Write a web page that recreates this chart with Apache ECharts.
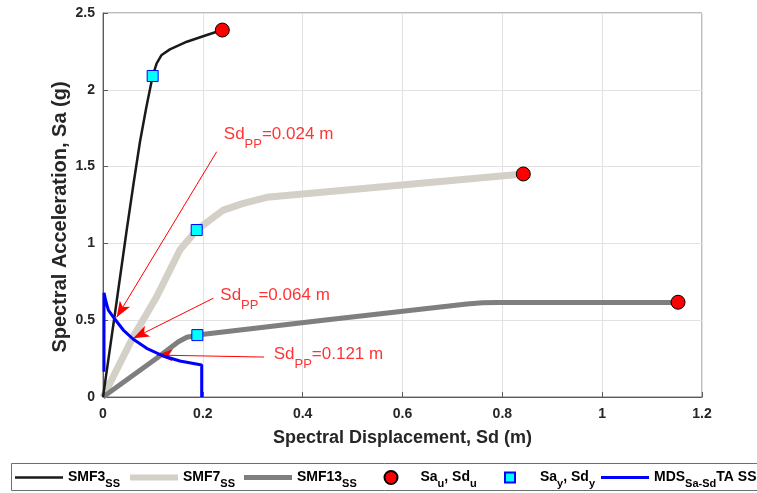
<!DOCTYPE html>
<html><head><meta charset="utf-8">
<script src="https://cdn.jsdelivr.net/npm/echarts@6/dist/echarts.min.js"></script>
<style>html,body{margin:0;padding:0;background:#fff}#c{width:757px;height:493px}</style>
</head><body><div id="c"></div>
<script>
// ---- data ----
const xTicks = [0, 0.2, 0.4, 0.6, 0.8, 1, 1.2];
const yTicks = [0, 0.5, 1, 1.5, 2, 2.5];

const smf3Sd = [0, 0.024, 0.0475, 0.061, 0.074, 0.087, 0.0995, 0.1075, 0.1175, 0.134, 0.168, 0.208, 0.239];
const smf3Sa = [0, 0.545, 1.087, 1.385, 1.66, 1.89, 2.09, 2.172, 2.227, 2.263, 2.313, 2.357, 2.389];

const smf7Sd = [0, 0.0607, 0.1075, 0.154, 0.1877, 0.241, 0.281, 0.328, 0.842];
const smf7Sa = [0, 0.393, 0.653, 0.957, 1.087, 1.217, 1.261, 1.3, 1.452];

const smf13Sd = [0, 0.1075, 0.151, 0.168, 0.189, 0.45, 0.729, 0.760, 0.790, 1.152];
const smf13Sa = [0, 0.252, 0.36, 0.389, 0.403, 0.503, 0.605, 0.613, 0.615, 0.615];

const ultSd = [0.239, 0.842, 1.152];
const ultSa = [2.389, 1.452, 0.617];

const yldSd = [0.0995, 0.1877, 0.189];
const yldSa = [2.09, 1.087, 0.403];

const mdsSd = [0.002, 0.002, 0.006, 0.0107, 0.024, 0.0407, 0.0607, 0.0875, 0.1208, 0.154, 0.1977, 0.1977];
const mdsSa = [0.164, 0.679, 0.62, 0.566, 0.506, 0.436, 0.376, 0.317, 0.267, 0.234, 0.208, 0];

// performance point annotations
const sdPP = [0.024, 0.064, 0.121];
const annotTextSd = [0.241, 0.234, 0.341];
const annotTextSa = [1.712, 0.664, 0.280];
const arrowFromSd = [0.2278, 0.221, 0.3225];
const arrowFromSa = [1.597, 0.643, 0.260];
const arrowToSd = [0.0274, 0.0607, 0.1076];
const arrowToSa = [0.519, 0.382, 0.273];

const legendRich = {
  SMF3: '{m|SMF3}{s|SS}',
  SMF7: '{m|SMF7}{s|SS}',
  SMF13: '{m|SMF13}{s|SS}',
  SaSdU: '{m|Sa}{s|u}{m|, Sd}{s|u}',
  SaSdY: '{m|Sa}{s|y}{m|, Sd}{s|y}',
  MDS: '{m|MDS}{s|Sa-Sd}{m|TA SS}'
};

// ---- build ----
const zip = (a, b) => a.map((v, i) => [v, b[i]]);
const FONT = '"Liberation Sans", Arial, sans-serif';

const legendRichStyle = {
  m: { fontSize: 14, fontWeight: 'bold', fontFamily: FONT, color: '#000', lineHeight: 16 },
  s: { fontSize: 11, fontWeight: 'bold', fontFamily: FONT, color: '#000', lineHeight: 12, padding: [12, 0, 0, 0] }
};
// left = icon left edge; textPad = extra gap between icon and text
const legendPos = [
  { name: 'SMF3', left: 15, w: 48, h: 2.5, icon: 'rect', textPad: 0 },
  { name: 'SMF7', left: 130, w: 48, h: 6, icon: 'rect', textPad: 0 },
  { name: 'SMF13', left: 244, w: 48, h: 5, icon: 'rect', textPad: 0 },
  { name: 'SaSdU', left: 383.5, w: 13, h: 13, icon: 'circle', textPad: 18 },
  { name: 'SaSdY', left: 504, w: 10, h: 10, icon: 'rect', textPad: 20 },
  { name: 'MDS', left: 601, w: 48, h: 3, icon: 'rect', textPad: 0 }
];

const chart = echarts.init(document.getElementById('c'), null, { renderer: 'canvas' });

const option = {
  animation: false,
  backgroundColor: '#fff',
  grid: { left: 103, right: 55, top: 13, bottom: 96, show: true, borderColor: '#7a7a7a', borderWidth: 1, backgroundColor: 'transparent' },
  xAxis: {
    type: 'value', min: xTicks[0], max: xTicks[xTicks.length - 1], interval: 0.2,
    name: 'Spectral Displacement, Sd (m)', nameLocation: 'middle', nameGap: 32,
    nameTextStyle: { fontSize: 18, fontWeight: 'bold', fontFamily: FONT, color: '#262626' },
    axisLine: { show: true, lineStyle: { color: '#5a5a5a' } },
    axisTick: { show: true, inside: true, length: 5, lineStyle: { color: '#5a5a5a' } },
    axisLabel: { fontSize: 14, fontWeight: 'bold', fontFamily: FONT, color: '#262626', margin: 10 },
    splitLine: { show: true, lineStyle: { color: '#e2e2e2', width: 1 } }
  },
  yAxis: {
    type: 'value', min: yTicks[0], max: yTicks[yTicks.length - 1], interval: 0.5,
    name: 'Spectral Acceleration, Sa (g)', nameLocation: 'middle', nameGap: 33, nameMoveOverlap: false,
    nameTextStyle: { fontSize: 20, fontWeight: 'bold', fontFamily: FONT, color: '#262626', padding: [0, 24, 0, 0] },
    axisLine: { show: true, lineStyle: { color: '#5a5a5a' } },
    axisTick: { show: true, inside: true, length: 5, lineStyle: { color: '#5a5a5a' } },
    axisLabel: { fontSize: 14, fontWeight: 'bold', fontFamily: FONT, color: '#262626', margin: 8 },
    splitLine: { show: true, lineStyle: { color: '#e2e2e2', width: 1 } }
  },
  legend: legendPos.map(p => ({
    data: [{ name: p.name, icon: p.icon }], left: p.left, top: 466, padding: 0, itemGap: 0,
    itemWidth: p.w, itemHeight: p.h, selectedMode: false,
    formatter: n => legendRich[n],
    textStyle: { rich: legendRichStyle, padding: [0, 0, 0, p.textPad] }
  })),
  graphic: [{
    type: 'rect', z: 0, silent: true,
    shape: { x: 11.5, y: 463.5, width: 800, height: 27 },
    style: { fill: '#fff', stroke: '#6e6e6e', lineWidth: 1 }
  }],
  series: [
    { name: 'SMF7', type: 'line', data: zip(smf7Sd, smf7Sa), symbol: 'none', z: 2,
      lineStyle: { color: '#d4d0c8', width: 7 }, itemStyle: { color: '#d4d0c8' } },
    { name: 'SMF13', type: 'line', data: zip(smf13Sd, smf13Sa), symbol: 'none', z: 3,
      lineStyle: { color: '#7f7f7f', width: 5 }, itemStyle: { color: '#7f7f7f' } },
    { name: 'SMF3', type: 'line', data: zip(smf3Sd, smf3Sa), symbol: 'none', z: 4,
      lineStyle: { color: '#1a1a1a', width: 2.5 }, itemStyle: { color: '#1a1a1a' } },
    { name: 'MDS', type: 'line', data: zip(mdsSd, mdsSa), symbol: 'none', z: 5,
      lineStyle: { color: '#0000ff', width: 3 }, itemStyle: { color: '#0000ff' } },
    { name: 'SaSdU', type: 'scatter', data: zip(ultSd, ultSa), symbol: 'circle', symbolSize: 14, z: 7,
      itemStyle: { color: '#ff0000', borderColor: '#000', borderWidth: 1, opacity: 1 } },
    { name: 'SaSdY', type: 'scatter', data: zip(yldSd, yldSa), symbol: 'rect', symbolSize: 11, z: 7,
      itemStyle: { color: '#00ffff', borderColor: '#0000ff', borderWidth: 1, opacity: 1 } },
    { name: 'annot', type: 'scatter', z: 8, silent: true,
      data: zip(annotTextSd, annotTextSa),
      symbol: 'circle', symbolSize: 1, itemStyle: { color: 'rgba(0,0,0,0)' },
      label: {
        show: true, position: 'right', distance: 0,
        formatter: p => '{a|Sd}{b|PP}{a|=' + sdPP[p.dataIndex].toFixed(3) + ' m}',
        rich: {
          a: { fontSize: 17, fontFamily: FONT, color: '#ff0000', lineHeight: 19 },
          b: { fontSize: 13, fontFamily: FONT, color: '#ff0000', lineHeight: 13, padding: [20, 0, 0, 0] }
        }
      },
      markLine: {
        silent: true, animation: false,
        lineStyle: { color: '#ff0000', width: 1, type: 'solid' },
        label: { show: false },
        emphasis: { disabled: true },
        data: arrowFromSd.map((v, i) => [
          { coord: [v, arrowFromSa[i]], symbol: 'none' },
          { coord: [arrowToSd[i], arrowToSa[i]], symbol: 'arrow', symbolSize: [9, 16] }
        ])
      }
    }
  ]
};
chart.setOption(option);
</script>
</body></html>
